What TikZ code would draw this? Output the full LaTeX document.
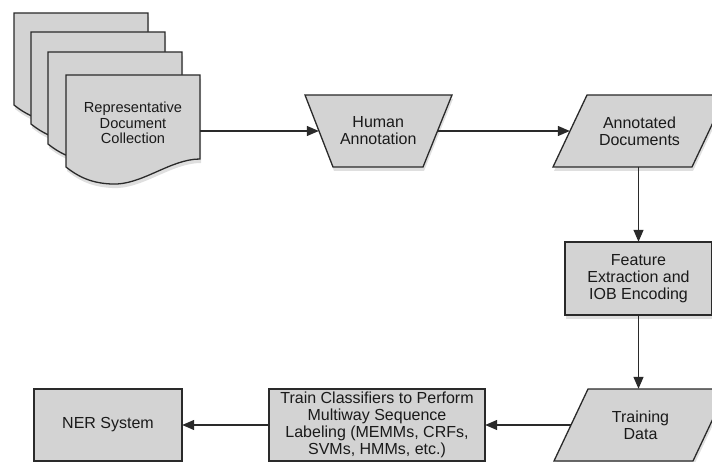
\documentclass[tikz,border=0pt]{standalone}
\usepackage{fontspec}
\setmainfont{Liberation Sans}
\usetikzlibrary{shadows,arrows.meta}
\definecolor{boxfill}{HTML}{D3D3D3}
\definecolor{boxline}{HTML}{2A2A2A}
\definecolor{txt}{HTML}{1A1A1A}
\newcommand{\docpg}[2]{%
  \path[pagestyle] (#1,#2) -- ++(134,0) -- ++(0,84)
    .. controls ++(-30,0) and ++(30,2) .. ++(-89,25)
    .. controls ++(-22,-1) and ++(10,8) .. ++(-45,-17) -- cycle;}
\begin{document}
\begin{tikzpicture}[x=1pt,y=-1pt,
  shapestyle/.style={draw=boxline, fill=boxfill, line width=1.3pt,
    drop shadow={shadow xshift=1pt, shadow yshift=-4pt, opacity=0.25}},
  pagestyle/.style={shapestyle},
  label/.style={text=txt, align=center, font=\fontsize{16}{17}\selectfont,
    inner sep=0pt, minimum height=72pt},
  flow/.style={draw=boxline, line width=1.3pt, -{Triangle[length=12pt,width=10pt]}}
]
\path[use as bounding box] (0,0) rectangle (712,462);
\clip (0,0) rectangle (712,462);

% document stack
\docpg{14}{13}
\docpg{31}{32}
\docpg{48}{52}
\docpg{66}{75}

% visible outlines
\path[shapestyle] (305,95) -- (452,95) -- (423,167) -- (333,167) -- cycle;      % human annotation
\path[shapestyle] (587,95) -- (726,95) -- (692,167) -- (553,167) -- cycle;      % annotated documents
\path[shapestyle] (565,242) rectangle (712,315);                                % feature extraction
\path[shapestyle] (588,389) -- (727,389) -- (693,461) -- (554,461) -- cycle;    % training data
\path[shapestyle] (269,389) rectangle (485,461);                                % train classifiers
\path[shapestyle] (34,389) rectangle (182,461);                                 % NER system

% text nodes (mid-height widths match the outlines)
\node[text=txt, align=center, font=\fontsize{14.6}{15.5}\selectfont,
  minimum width=134pt, inner sep=0pt] (doc) at (133,123)
  {Representative\\Document\\Collection};
\node[label, minimum width=118.5pt] (ha) at (378.25,131) {Human\\Annotation};
\node[label, minimum width=139pt] (ad) at (639.5,131) {Annotated\\Documents};
\node[label, minimum width=147pt, minimum height=73pt] (fe) at (638.5,278.5)
  {Feature\\Extraction and\\IOB Encoding};
\node[label, minimum width=139pt] (td) at (640.5,425) {Training\\Data};
\node[label, minimum width=216pt] (tc) at (377,425)
  {Train Classifiers to Perform\\Multiway Sequence\\Labeling (MEMMs, CRFs,\\SVMs, HMMs, etc.)};
\node[label, minimum width=148pt] (ner) at (108,425) {NER System};

\draw[flow] (doc.east |- ha) -- (ha);
\draw[flow] (ha) -- (ad);
\draw[flow] (ad.south -| fe) -- (fe);
\draw[flow] (fe) -- (fe |- td.north);
\draw[flow] (td) -- (tc);
\draw[flow] (tc) -- (ner);
\end{tikzpicture}
\end{document}
